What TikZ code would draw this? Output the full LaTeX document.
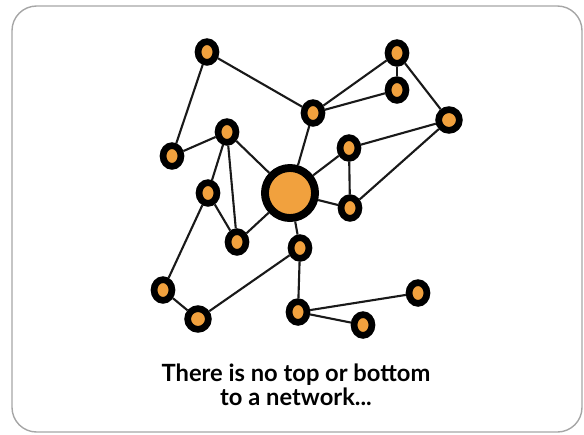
\documentclass[tikz,border=0pt]{standalone}
\usepackage{fontspec}
\setmainfont{Lato}
\usetikzlibrary{positioning,shapes.geometric}
\definecolor{dotorange}{RGB}{241,161,62}
\tikzset{svert/.style={draw=black,ellipse,fill=dotorange,line width=3.8pt,minimum width=10.2pt,minimum height=11.8pt,inner sep=0pt}  }
\tikzset{hubvert/.style={draw=black,circle,fill=dotorange,line width=4.5pt,minimum size=28.5pt,inner sep=0pt}  }
\tikzset{link/.style={line width=1.2pt,black!90}}

\begin{document}
\begin{tikzpicture}[x=0.02cm,y=-0.02cm]
	\useasboundingbox (0,0) rectangle (584,434);
	\draw[black!35,line width=0.8pt,rounded corners=14pt] (12,6) rectangle (582,432);

	% the nodes
		\coordinate[hubvert] (hub) at (290,193);
		\coordinate[svert] (a) at (207,52);
		\coordinate[svert] (b) at (313,113);
		\coordinate[svert] (c) at (227,132);
		\coordinate[svert] (d) at (172,156);
		\coordinate[svert] (e) at (397,53);
		\coordinate[svert] (f) at (397,90);
		\coordinate[svert,minimum width=11.8pt] (g) at (449,120);
		\coordinate[svert] (h) at (349,148);
		\coordinate[svert] (i) at (350,208);
		\coordinate[svert] (j) at (208,193);
		\coordinate[svert] (k) at (237,242);
		\coordinate[svert] (l) at (300,248);
		\coordinate[svert] (m) at (163,290);
		\coordinate[svert,minimum width=11.8pt] (n) at (198,319);
		\coordinate[svert] (o) at (298,312);
		\coordinate[svert] (p) at (418,293);
		\coordinate[svert] (q) at (363,325);

	% the links
			\draw[link]
				  (a) edge (d) edge (b)
				  (b) edge (e) edge (f) edge (hub)
				  (e) edge (f) edge (g)
				  (g) edge (h) edge (i)
				  (h) edge (i) edge (hub)
				  (hub) edge (i) edge (c) edge (k) edge (l)
				  (c) edge (d) edge (j) edge (k)
				  (j) edge (k) edge (m)
				  (m) edge (n)
				  (l) edge (n) edge (o)
				  (o) edge (p) edge (q)
				;
	\node[align=center,font=\fontsize{13.5}{13.8}\selectfont\bfseries] (caption) at (296,385) {There is no top or bottom\\to a network...};
\end{tikzpicture}
\end{document}
